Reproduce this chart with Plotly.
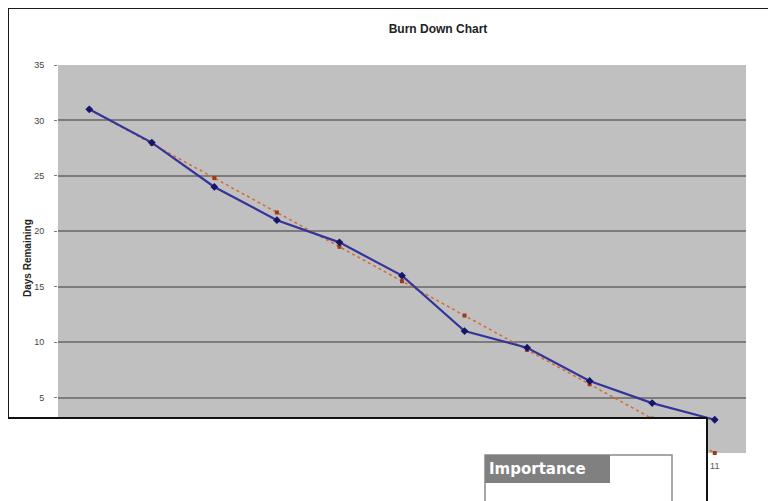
import plotly.graph_objects as go

# ---- data ----
days = [1, 2, 3, 4, 5, 6, 7, 8, 9, 10, 11]
actual_remaining = [31, 28, 24, 21, 19, 16, 11, 9.5, 6.5, 4.5, 3]
ideal_remaining = [31, 27.9, 24.8, 21.7, 18.6, 15.5, 12.4, 9.3, 6.2, 3.1, 0]
y_ticks = [5, 10, 15, 20, 25, 30, 35]
x_visible_ticks = [11]

chart_title = "Burn Down Chart"
y_title = "Days Remaining"
overlay_label = "Importance"

# ---- geometry (window pixels; the page body adds an 8px offset) ----
OFF = 8
W, H = 776 - OFF, 501 - OFF
L, R, T, B = 58 - OFF, 746 - OFF, 65 - OFF, 453 - OFF


def px(xp):
    return (xp - OFF - L) / (R - L)


def py(yp):
    return (B - (yp - OFF)) / (B - T)


fig = go.Figure()

fig.add_trace(go.Scatter(
    x=days, y=ideal_remaining, mode="lines+markers",
    line=dict(color="#d86a30", width=1.5, dash="dot"),
    marker=dict(symbol="square", size=4, color="#9a3a1a"),
    showlegend=False, cliponaxis=False,
))
fig.add_trace(go.Scatter(
    x=days, y=actual_remaining, mode="lines+markers",
    line=dict(color="#34349a", width=2.2),
    marker=dict(symbol="diamond", size=6, color="#15156a"),
    showlegend=False, cliponaxis=False,
))

shapes = []
# outer chart frame (top and left edges)
shapes.append(dict(type="line", xref="paper", yref="paper",
                   x0=px(8), x1=px(800), y0=py(8), y1=py(8),
                   line=dict(color="#1a1a1a", width=2), layer="above"))
shapes.append(dict(type="line", xref="paper", yref="paper",
                   x0=px(8), x1=px(8), y0=py(8), y1=py(418),
                   line=dict(color="#1a1a1a", width=2), layer="above"))
# overlapping white sheet
shapes.append(dict(type="rect", xref="paper", yref="paper",
                   x0=px(0), x1=px(707), y0=py(418), y1=py(520),
                   fillcolor="white", line=dict(width=0), layer="above"))
shapes.append(dict(type="line", xref="paper", yref="paper",
                   x0=px(0), x1=px(707), y0=py(418), y1=py(418),
                   line=dict(color="#111111", width=2), layer="above"))
shapes.append(dict(type="line", xref="paper", yref="paper",
                   x0=px(707), x1=px(707), y0=py(418), y1=py(520),
                   line=dict(color="#111111", width=2), layer="above"))
# "Importance" box
shapes.append(dict(type="rect", xref="paper", yref="paper",
                   x0=px(485), x1=px(672), y0=py(455), y1=py(520),
                   fillcolor="white", line=dict(color="#8a8a8a", width=1.5), layer="above"))
shapes.append(dict(type="rect", xref="paper", yref="paper",
                   x0=px(485), x1=px(610), y0=py(455), y1=py(483),
                   fillcolor="#808080", line=dict(width=0), layer="above"))

annotations = [
    dict(text=overlay_label, xref="paper", yref="paper",
         x=px(487), y=py(469), xanchor="left", yanchor="middle",
         showarrow=False,
         font=dict(family="DejaVu Sans", size=15, color="white", weight="bold")),
    dict(text=y_title, xref="paper", yref="paper",
         x=px(27), y=py(258), xanchor="center", yanchor="middle",
         textangle=-90, showarrow=False,
         font=dict(family="Liberation Sans", size=10, color="#222222", weight="bold")),
]

fig.update_layout(
    width=W, height=H,
    margin=dict(l=L, r=W - R, t=T, b=H - B, pad=0),
    paper_bgcolor="white",
    plot_bgcolor="#c0c0c0",
    title=dict(text=chart_title, xref="paper", x=px(438), xanchor="center",
               yref="container", y=1 - (29 - OFF) / H, yanchor="middle",
               font=dict(family="Liberation Sans", size=12, color="#222222", weight="bold")),
    xaxis=dict(range=[0.5, 11.5], tickmode="array", tickvals=x_visible_ticks,
               ticktext=[str(d) for d in x_visible_ticks], showgrid=False, zeroline=False,
               showline=False, ticks="", ticklabelstandoff=6,
               tickfont=dict(family="Liberation Sans", size=9, color="#555555")),
    yaxis=dict(range=[0, 35], tickmode="array", tickvals=y_ticks,
               ticktext=[str(v) for v in y_ticks],
               showgrid=True, gridcolor="#7c7c7c", gridwidth=2,
               zeroline=False, showline=False, ticks="outside", ticklen=3,
               tickcolor="#7c7c7c", ticklabelstandoff=8,
               tickfont=dict(family="Liberation Sans", size=9, color="#444444")),
    shapes=shapes,
    annotations=annotations,
)

fig.write_html("out.html")
